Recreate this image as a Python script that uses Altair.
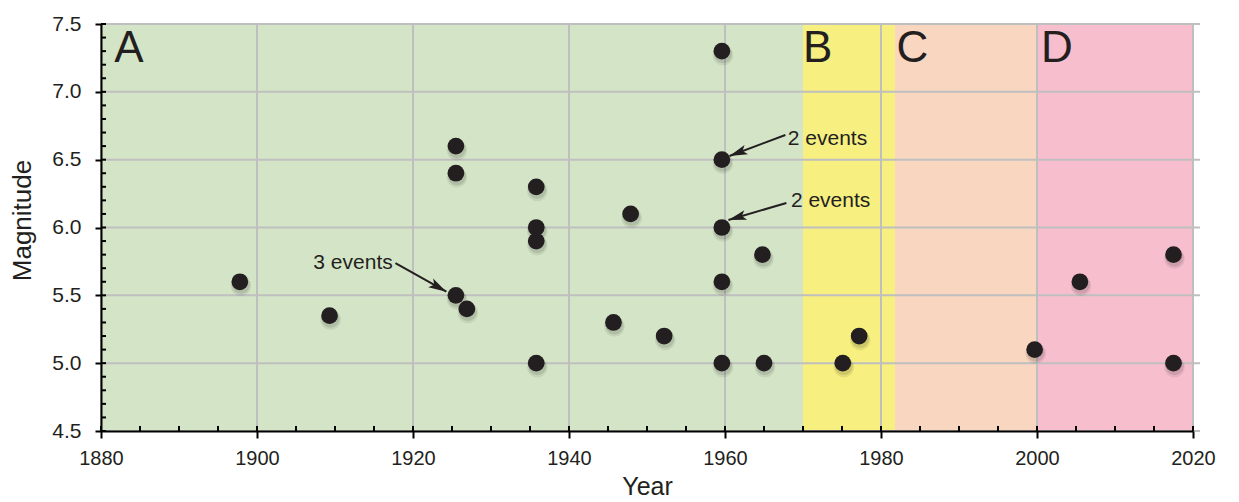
import altair as alt
import pandas as pd

# ---- data ----
years = [1897.8, 1909.3, 1925.5, 1925.5, 1925.5, 1926.9, 1935.8, 1935.8, 1935.8, 1935.8,
         1945.7, 1947.9, 1952.2, 1959.6, 1959.6, 1959.6, 1959.6, 1959.6, 1964.8, 1965.0,
         1975.1, 1977.2, 1999.7, 2005.5, 2017.5, 2017.5]
mags = [5.6, 5.35, 6.6, 6.4, 5.5, 5.4, 6.3, 6.0, 5.9, 5.0,
        5.3, 6.1, 5.2, 7.3, 6.5, 6.0, 5.6, 5.0, 5.8, 5.0,
        5.0, 5.2, 5.1, 5.6, 5.8, 5.0]

period_labels = ["A", "B", "C", "D"]
period_start = [1880, 1970, 1981.8, 2000]
period_end = [1970, 1981.8, 2000, 2020]
period_colors = ["#d4e5c7", "#f7ef80", "#f8d6c0", "#f7bece"]
label_x = [1881.7, 1970.0, 1982.0, 2000.5]
label_y = [7.22, 7.22, 7.22, 7.22]

ann_text = ["3 events", "2 events", "2 events"]
ann_x = [1917.4, 1968.05, 1968.45]
ann_y = [5.694, 6.608, 6.151]
ann_align = ["right", "left", "left"]
arrow_x_from = [1917.75, 1967.74, 1967.87]
arrow_y_from = [5.738, 6.682, 6.181]
arrow_x_to = [1924.28, 1960.57, 1960.44]
arrow_y_to = [5.527, 6.527, 6.055]
arrow_angle = [119.4, 249.4, 253.7]

x_major = [1880, 1900, 1920, 1940, 1960, 1980, 2000, 2020]
y_major = [4.5, 5.0, 5.5, 6.0, 6.5, 7.0, 7.5]
x_minor = list(range(1880, 2021, 5))
y_minor = [round(4.5 + 0.1 * i, 1) for i in range(31)]

W, H = 1092, 407
FONT = "Liberation Sans"
INK = "#231f20"
GRID = "#bfbfbf"

pts = pd.DataFrame({"year": years, "mag": mags})
periods = pd.DataFrame({"label": period_labels, "start": period_start, "end": period_end,
                        "color": period_colors, "lx": label_x, "ly": label_y})
ann = pd.DataFrame({"text": ann_text, "x": ann_x, "y": ann_y, "align": ann_align})
arrows = pd.DataFrame({"x0": arrow_x_from, "y0": arrow_y_from, "x1": arrow_x_to,
                       "y1": arrow_y_to, "angle": arrow_angle})
xgrid = pd.DataFrame({"v": x_major})
ygrid = pd.DataFrame({"v": y_major})
xmin = pd.DataFrame({"v": x_minor})
ymin = pd.DataFrame({"v": y_minor})

xs = alt.Scale(domain=[1880, 2020], nice=False, zero=False)
ys = alt.Scale(domain=[4.5, 7.5], nice=False, zero=False)

xaxis = alt.Axis(values=x_major, format="d", title="Year", grid=False, zindex=1,
                 domainColor="black", domainWidth=2, tickColor="black", tickWidth=2,
                 tickSize=7, labelFont=FONT, labelFontSize=20, labelColor=INK,
                 labelPadding=10, labelFlush=False, labelOverlap=False,
                 titleFont=FONT, titleFontSize=25, titleFontWeight="normal",
                 titleColor=INK, titleY=63, titleBaseline="alphabetic")
yaxis = alt.Axis(values=y_major, format=".1f", title="Magnitude", grid=False, zindex=1,
                 domainColor="black", domainWidth=2, tickColor="black", tickWidth=2,
                 tickSize=6, labelFont=FONT, labelFontSize=21, labelColor=INK,
                 labelPadding=14, labelFlush=False, labelOverlap=False,
                 titleFont=FONT, titleFontSize=26, titleFontWeight="normal",
                 titleColor=INK, titleX=-79, titleY=196, titleBaseline="middle")


def X(f):
    return alt.X(f, scale=xs, axis=xaxis)


def Y(f):
    return alt.Y(f, scale=ys, axis=yaxis)


rects = alt.Chart(periods).mark_rect().encode(
    x=X("start:Q"), x2="end:Q",
    y=alt.value(0), y2=alt.value(H),
    color=alt.Color("color:N", scale=None),
)

vgrid = alt.Chart(xgrid).mark_rule(color=GRID, strokeWidth=2).encode(
    x=X("v:Q"), y=alt.value(0), y2=alt.value(H)
)
hgrid = alt.Chart(ygrid).mark_rule(color=GRID, strokeWidth=2).encode(
    y=Y("v:Q"), x=alt.value(0), x2=alt.value(W + 7)
)

xin = alt.Chart(xmin).mark_rule(color="black", strokeWidth=2).encode(
    x=X("v:Q"), y=alt.value(H), y2=alt.value(H - 5)
)
yin = alt.Chart(ymin).mark_rule(color="black", strokeWidth=2).encode(
    y=Y("v:Q"), x=alt.value(0), x2=alt.value(5)
)

letters = alt.Chart(periods).mark_text(
    font=FONT, fontSize=44, color=INK, align="left", baseline="alphabetic"
).encode(x=X("lx:Q"), y=Y("ly:Q"), text="label:N")

shadow1 = alt.Chart(pts).mark_circle(color="#000000", opacity=0.07, size=430, yOffset=4, xOffset=1).encode(
    x=X("year:Q"), y=Y("mag:Q")
)
shadow2 = alt.Chart(pts).mark_circle(color="#000000", opacity=0.10, size=330, yOffset=3, xOffset=1).encode(
    x=X("year:Q"), y=Y("mag:Q")
)

points = alt.Chart(pts).mark_circle(color=INK, opacity=1, size=280).encode(
    x=X("year:Q"), y=Y("mag:Q")
)

lines = alt.Chart(arrows).mark_rule(color=INK, strokeWidth=2).encode(
    x=X("x0:Q"), y=Y("y0:Q"), x2="x1:Q", y2="y1:Q",
)
heads = alt.Chart(arrows).mark_point(
    filled=True, shape="M0,0L0.55,2L0,1.55L-0.55,2Z", size=324, color=INK, opacity=1
).encode(
    x=X("x1:Q"), y=Y("y1:Q"),
    angle=alt.Angle("angle:Q", scale=None),
)

ann_right = alt.Chart(ann).transform_filter(alt.datum.align == "right").mark_text(
    font=FONT, fontSize=21, color=INK, align="right", baseline="alphabetic"
).encode(x=X("x:Q"), y=Y("y:Q"), text="text:N")
ann_left = alt.Chart(ann).transform_filter(alt.datum.align == "left").mark_text(
    font=FONT, fontSize=21, color=INK, align="left", baseline="alphabetic"
).encode(x=X("x:Q"), y=Y("y:Q"), text="text:N")

chart = alt.layer(
    rects, vgrid, hgrid, xin, yin, letters, shadow1, shadow2, points, lines, heads, ann_right, ann_left
).properties(
    width=W, height=H,
    autosize=alt.AutoSizeParams(type="none"),
    padding={"left": 93, "top": 16, "right": 38, "bottom": 70},
).configure_view(stroke=None).configure(background="white")

chart.save("out.html", embed_options={"renderer": "svg", "actions": False})
